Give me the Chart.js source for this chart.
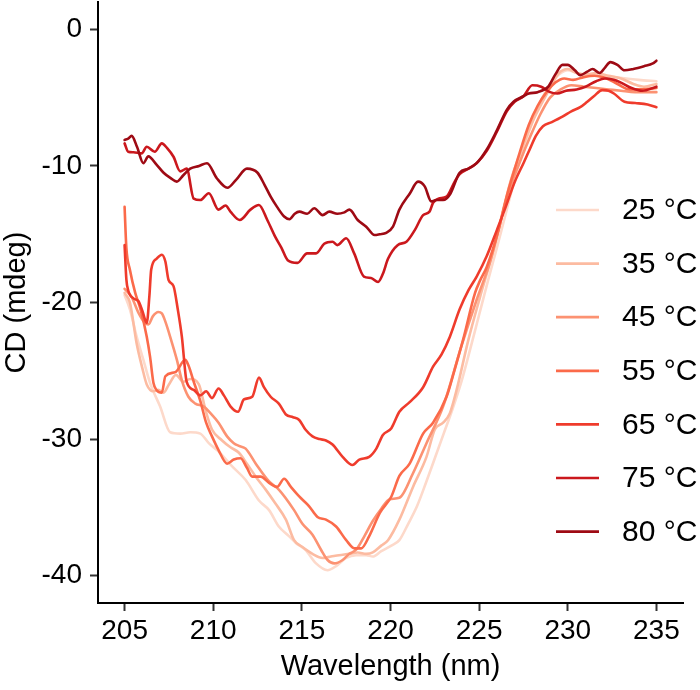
<!DOCTYPE html>
<html>
<head>
<meta charset="utf-8">
<script src="https://cdn.jsdelivr.net/npm/chart.js@4.4.0/dist/chart.umd.min.js"></script>
<style>
  html, body { margin: 0; padding: 0; background: #fff; }
</style>
</head>
<body>
<canvas id="cdChart" width="700" height="690"></canvas>
<script>
// CD spectra at different temperatures

const tempLabels = ['25 °C', '35 °C', '45 °C', '55 °C', '65 °C', '75 °C', '80 °C'];
const tempColors = ['#FDD9CA', '#FCBBA1', '#FC9272', '#FB6A4A', '#EF3B2C', '#CB181D', '#9E0A14'];

const xTicks = [205, 210, 215, 220, 225, 230, 235];
const yTicks = [-40, -30, -20, -10, 0];

const wl25 = [205.0, 205.3, 205.68, 206.06, 206.44, 207.0, 207.57, 208.14, 208.7, 209.27, 209.75, 210.3, 211.07, 211.83, 212.58, 213.15, 213.7, 214.27, 214.66, 215.2, 215.8, 216.45, 216.93, 217.5, 218.06, 218.63, 219.0, 219.48, 220.05, 220.5, 221.0, 221.5, 222.0, 222.5, 223.0, 223.5, 224.0, 224.5, 225.0, 225.5, 226.0, 226.5, 227.0, 227.5, 228.0, 228.5, 229.0, 229.5, 230.0, 230.5, 231.1, 231.8, 232.6, 233.3, 234.0, 235.0];
const cd25 = [-19.45, -20.5, -22.5, -24.2, -25.9, -27.6, -29.5, -29.6, -29.5, -29.6, -30.3, -30.9, -32.0, -33.0, -34.5, -35.2, -36.4, -37.1, -37.6, -38.1, -39.1, -39.6, -39.3, -38.7, -38.5, -38.5, -38.6, -38.2, -37.8, -37.4, -36.2, -34.9, -33.2, -31.4, -29.6, -27.8, -25.8, -23.4, -20.9, -18.4, -16.0, -13.5, -11.0, -8.7, -6.8, -5.2, -4.0, -3.3, -3.0, -3.2, -3.35, -3.4, -3.5, -3.6, -3.7, -3.8];

const wl35 = [205.0, 205.3, 205.68, 206.0, 206.25, 206.63, 206.9, 207.2, 207.5, 207.9, 208.3, 208.7, 209.19, 209.57, 209.93, 210.5, 210.97, 211.45, 211.9, 212.4, 212.96, 213.5, 214.1, 214.56, 215.03, 215.6, 216.17, 216.64, 217.1, 217.68, 218.15, 218.63, 219.0, 219.48, 219.86, 220.5, 221.27, 222.03, 222.5, 222.97, 223.35, 223.73, 224.4, 225.05, 225.8, 226.3, 226.8, 227.4, 228.0, 228.5, 229.0, 229.5, 230.0, 230.5, 231.0, 231.6, 232.3, 233.0, 233.7, 234.3, 235.0];
const cd35 = [-19.3, -20.0, -23.0, -24.8, -26.0, -26.5, -26.4, -26.6, -26.0, -25.3, -25.8, -25.6, -26.0, -27.9, -29.3, -30.1, -30.6, -31.0, -31.8, -32.75, -33.7, -34.7, -35.9, -37.4, -37.9, -38.4, -38.7, -38.6, -38.5, -38.4, -38.3, -38.4, -38.3, -37.8, -37.4, -35.9, -33.5, -31.3, -29.3, -28.8, -28.1, -26.4, -22.7, -19.6, -16.2, -13.5, -11.0, -8.8, -6.8, -5.5, -4.3, -3.2, -2.9, -3.2, -3.3, -3.2, -3.4, -3.6, -4.0, -4.2, -4.0];

const wl45 = [205.0, 205.4, 205.8, 206.15, 206.34, 206.6, 206.9, 207.1, 207.3, 207.66, 207.95, 208.23, 208.6, 208.99, 209.46, 209.84, 210.3, 210.78, 211.16, 211.45, 211.83, 212.4, 213.15, 213.7, 214.56, 215.03, 215.6, 216.08, 216.45, 216.83, 217.3, 217.68, 218.06, 218.53, 219.0, 219.48, 219.95, 220.5, 221.27, 222.03, 222.97, 224.0, 224.86, 225.6, 226.0, 226.56, 227.33, 227.9, 228.46, 229.0, 229.6, 230.2, 230.9, 231.6, 232.3, 233.0, 233.8, 234.5, 235.0];
const cd45 = [-19.0, -19.6, -20.8, -21.5, -21.6, -21.0, -20.7, -20.8, -21.4, -22.9, -24.2, -25.7, -26.9, -27.4, -27.6, -28.1, -28.8, -29.8, -30.3, -30.5, -30.7, -31.8, -33.1, -33.7, -35.2, -36.2, -37.0, -38.1, -38.85, -39.1, -38.85, -38.4, -38.1, -37.1, -36.0, -35.1, -34.4, -34.3, -32.5, -30.3, -27.6, -23.2, -19.8, -17.1, -15.2, -12.3, -9.6, -7.8, -6.2, -5.0, -4.4, -4.1, -4.2, -4.3, -4.4, -4.5, -4.6, -4.6, -4.6];

const wl55 = [205.0, 205.1, 205.3, 205.6, 205.9, 206.25, 206.44, 206.63, 206.8, 207.1, 207.3, 207.86, 208.42, 208.6, 208.9, 209.27, 209.6, 209.93, 210.3, 210.78, 211.16, 211.54, 211.9, 212.2, 212.68, 213.15, 213.6, 214.0, 214.38, 214.85, 215.4, 215.88, 216.36, 216.93, 217.5, 217.97, 218.35, 218.8, 219.4, 220.05, 220.5, 221.08, 221.84, 222.4, 223.16, 223.6, 224.1, 224.77, 225.05, 225.43, 226.09, 226.6, 227.2, 227.8, 228.3, 228.8, 229.3, 229.8, 230.3, 230.9, 231.5, 232.2, 232.8, 233.5, 234.2, 235.0];
const cd55 = [-13.0, -16.0, -17.6, -19.3, -20.5, -22.5, -24.0, -25.9, -26.4, -26.6, -25.4, -25.1, -24.2, -24.6, -25.8, -27.2, -28.8, -29.8, -30.8, -31.8, -31.5, -31.4, -32.1, -32.75, -32.75, -33.2, -33.5, -32.9, -33.5, -34.2, -34.9, -35.7, -35.9, -36.4, -37.4, -38.0, -38.0, -37.1, -35.4, -34.2, -32.7, -31.8, -29.6, -28.8, -26.9, -25.0, -22.7, -19.3, -18.4, -17.4, -14.7, -12.0, -9.4, -7.0, -5.6, -4.6, -3.9, -3.6, -3.7, -3.5, -3.4, -3.6, -4.0, -4.4, -4.4, -4.3];

const wl65 = [205.0, 205.1, 205.2, 205.5, 205.78, 206.0, 206.25, 206.4, 206.5, 206.8, 207.1, 207.3, 207.48, 207.76, 208.0, 208.23, 208.5, 208.9, 209.27, 209.6, 209.93, 210.3, 210.6, 210.97, 211.4, 211.73, 212.2, 212.58, 212.86, 213.24, 213.7, 214.1, 214.5, 214.85, 215.2, 215.6, 216.0, 216.36, 216.73, 217.3, 217.86, 218.24, 218.8, 219.2, 219.57, 220.05, 220.5, 221.08, 221.84, 222.4, 222.88, 223.35, 223.9, 224.4, 224.86, 225.43, 226.0, 226.5, 227.0, 227.5, 227.85, 228.2, 228.6, 229.1, 229.7, 230.2, 230.7, 231.1, 231.47, 231.95, 232.3, 232.6, 233.2, 233.8, 234.5, 235.0];
const cd65 = [-15.8, -18.3, -19.1, -19.7, -19.9, -20.6, -21.5, -19.5, -17.6, -16.8, -16.5, -17.0, -18.35, -18.8, -20.5, -22.5, -25.8, -26.4, -26.8, -26.5, -27.0, -26.3, -26.8, -27.6, -28.0, -27.1, -26.9, -25.5, -26.2, -26.9, -27.4, -28.2, -28.4, -28.6, -29.3, -29.8, -30.0, -30.1, -30.4, -31.3, -31.9, -31.5, -31.3, -30.7, -29.7, -29.2, -28.0, -27.3, -26.2, -24.7, -23.8, -22.5, -20.5, -19.1, -18.1, -16.6, -14.7, -13.0, -11.2, -9.8, -8.8, -7.8, -7.1, -6.8, -6.4, -6.0, -5.7, -5.3, -4.9, -4.45, -4.5, -4.7, -5.3, -5.4, -5.5, -5.7];

const wl75 = [205.0, 205.2, 205.5, 205.96, 206.25, 206.7, 207.1, 207.4, 207.76, 208.14, 208.5, 208.9, 209.27, 209.75, 210.3, 210.7, 210.97, 211.5, 212.1, 212.58, 213.05, 213.5, 213.85, 214.2, 214.75, 215.3, 215.8, 216.26, 216.73, 217.0, 217.5, 217.95, 218.5, 218.9, 219.3, 219.57, 219.86, 220.4, 220.9, 221.37, 221.84, 222.2, 222.4, 222.7, 223.16, 223.6, 223.9, 224.4, 224.86, 225.43, 226.0, 226.56, 227.0, 227.5, 228.0, 228.5, 229.0, 229.4, 229.9, 230.5, 231.0, 231.6, 232.1, 232.6, 233.0, 233.6, 234.2, 235.0];
const cd75 = [-8.35, -8.96, -9.0, -9.08, -8.6, -8.96, -8.35, -8.7, -9.33, -10.4, -10.2, -12.4, -12.5, -12.0, -13.2, -12.9, -13.35, -13.96, -13.2, -12.86, -13.96, -15.2, -16.0, -16.9, -17.1, -16.4, -16.4, -15.7, -15.55, -15.8, -15.3, -16.4, -18.1, -18.2, -18.5, -17.9, -16.8, -15.8, -15.55, -14.7, -13.6, -13.35, -12.7, -12.4, -12.25, -11.2, -10.6, -10.2, -9.8, -8.9, -7.5, -6.0, -5.3, -4.9, -4.1, -4.2, -4.6, -4.7, -4.5, -4.4, -4.2, -3.8, -3.6, -3.7, -3.9, -4.3, -4.5, -4.2];

const wl80 = [205.0, 205.2, 205.4, 205.7, 206.06, 206.34, 206.8, 207.2, 207.6, 207.95, 208.3, 208.7, 209.2, 209.65, 210.2, 210.8, 211.3, 211.9, 212.5, 212.9, 213.24, 213.6, 214.0, 214.3, 214.6, 214.86, 215.3, 215.7, 216.17, 216.55, 217.0, 217.4, 217.68, 218.15, 218.63, 219.1, 219.4, 219.76, 220.14, 220.5, 221.1, 221.55, 221.93, 222.3, 222.6, 222.97, 223.35, 223.9, 224.4, 224.86, 225.43, 226.0, 226.56, 226.94, 227.5, 227.8, 228.3, 228.9, 229.3, 229.7, 230.0, 230.4, 230.7, 231.1, 231.4, 231.8, 232.1, 232.4, 232.8, 233.2, 233.7, 234.3, 234.8, 235.0];
const cd80 = [-8.1, -8.0, -7.8, -8.6, -9.8, -9.3, -9.9, -10.5, -10.9, -11.15, -10.7, -10.2, -10.0, -9.8, -10.9, -11.6, -11.0, -10.2, -10.5, -11.4, -12.25, -13.0, -13.7, -13.9, -13.5, -13.35, -13.5, -13.1, -13.6, -13.35, -13.5, -13.4, -13.2, -13.96, -14.45, -15.06, -15.0, -14.9, -14.45, -13.2, -12.0, -11.15, -11.5, -12.6, -12.5, -12.5, -12.1, -10.5, -10.2, -9.8, -8.8, -7.4, -5.9, -5.3, -4.9, -4.7, -4.6, -4.2, -3.3, -2.6, -2.6, -3.0, -3.35, -3.1, -2.9, -3.2, -2.8, -2.4, -2.6, -3.0, -2.9, -2.7, -2.5, -2.3];

const wlSeries = [wl25, wl35, wl45, wl55, wl65, wl75, wl80];
const cdSeries = [cd25, cd35, cd45, cd55, cd65, cd75, cd80];

const FONT = '"Liberation Sans", Arial, sans-serif';

const datasets = tempLabels.map((label, i) => ({
    label: label,
    data: wlSeries[i].map((x, j) => ({ x: x, y: cdSeries[i][j] })),
    borderColor: tempColors[i],
    backgroundColor: tempColors[i],
    order: tempLabels.length - i
}));

// legend drawn inside the plot, on the right
const insideLegend = {
    id: 'insideLegend',
    afterDraw(chart) {
        const ctx = chart.ctx;
        ctx.save();
        ctx.font = '30px ' + FONT;
        ctx.textBaseline = 'middle';
        ctx.textAlign = 'left';
        chart.data.datasets.forEach((ds, i) => {
            const y = 210 + i * 53.6;
            ctx.strokeStyle = ds.borderColor;
            ctx.lineWidth = 2.7;
            ctx.beginPath();
            ctx.moveTo(556, y);
            ctx.lineTo(599, y);
            ctx.stroke();
            ctx.fillStyle = '#000';
            ctx.fillText(ds.label, 622, y + 1);
        });
        ctx.restore();
    }
};

new Chart(document.getElementById('cdChart'), {
    type: 'line',
    data: { datasets: datasets },
    options: {
        responsive: false,
        animation: false,
        layout: { padding: { top: 2, right: 17, left: 0, bottom: 0 } },
        plugins: {
            legend: { display: false },
            tooltip: { enabled: false }
        },
        elements: {
            point: { radius: 0 },
            line: { cubicInterpolationMode: 'monotone', borderWidth: 2.6, borderJoinStyle: 'round', borderCapStyle: 'round' }
        },
        scales: {
            x: {
                type: 'linear',
                min: 203.5,
                max: 236.5,
                afterBuildTicks: axis => { axis.ticks = xTicks.map(v => ({ value: v })); },
                afterFit: scale => { scale.height = 87; scale.paddingLeft = 0; scale.paddingRight = 0; },
                grid: { drawOnChartArea: false, drawTicks: true, tickLength: 8, tickWidth: 2, tickColor: '#333' },
                border: { display: true, color: '#000', width: 2 },
                ticks: { color: '#000', padding: 3, maxRotation: 0, font: { family: FONT, size: 28 } },
                title: { display: true, text: 'Wavelength (nm)', color: '#000', padding: { top: 0, bottom: 6 }, font: { family: FONT, size: 29 } }
            },
            y: {
                type: 'linear',
                min: -42,
                max: 2,
                afterBuildTicks: axis => { axis.ticks = yTicks.map(v => ({ value: v })); },
                afterFit: scale => { scale.width = 98; scale.paddingTop = 0; scale.paddingBottom = 0; },
                grid: { drawOnChartArea: false, drawTicks: true, tickLength: 8, tickWidth: 2, tickColor: '#333' },
                border: { display: true, color: '#000', width: 2 },
                ticks: { color: '#000', padding: 8, font: { family: FONT, size: 28 } },
                title: { display: true, text: 'CD (mdeg)', color: '#000', padding: { top: 0, bottom: 0 }, font: { family: FONT, size: 29 } }
            }
        }
    },
    plugins: [insideLegend]
});
</script>
</body>
</html>
